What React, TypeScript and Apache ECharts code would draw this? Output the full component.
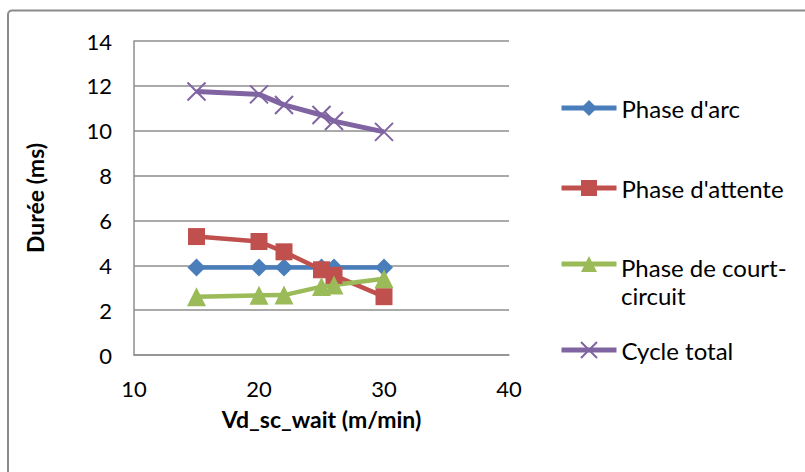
import React, { useEffect, useRef } from "react";
import * as echarts from "echarts";

const xValues = [15, 20, 22, 25, 26, 30];
const arcValues = [3.9, 3.9, 3.9, 3.9, 3.9, 3.9];
const attenteValues = [5.28, 5.06, 4.6, 3.8, 3.55, 2.6];
const courtCircuitValues = [2.6, 2.66, 2.67, 3.05, 3.12, 3.4];
const cycleValues = [11.75, 11.62, 11.15, 10.7, 10.43, 9.95];

const seriesNames = ["Phase d'arc", "Phase d'attente", "Phase de court-circuit", "Cycle total"];
const colors = ["#4A7EBB", "#C0504D", "#9BBB59", "#8064A2"];

const FONT = "Lato, 'Open Sans', sans-serif";

const pair = (ys: number[]) => xValues.map((x, i) => [x, ys[i]]);

export default function App() {
  const ref = useRef<HTMLDivElement>(null);
  useEffect(() => {
    if (!ref.current) return;
    const chart = echarts.init(ref.current, undefined, { renderer: "svg" });
    const legendBase = (name: string, top: number, text?: string) => ({
      data: [name],
      left: 559,
      top,
      padding: 0,
      orient: "vertical",
      itemWidth: 55,
      itemHeight: 20,
      itemGap: 0,
      selectedMode: false,
      formatter: text !== undefined ? () => text : undefined,
      lineStyle: { width: 5 },
      textStyle: { fontFamily: FONT, fontSize: 24, lineHeight: 22, color: "#000" },
    });
    chart.setOption({
      animation: false,
      backgroundColor: "#fff",
      grid: { left: 134, right: 296, top: 41, bottom: 117, containLabel: false },
      xAxis: {
        type: "value",
        min: 10,
        max: 40,
        interval: 10,
        name: "Vd_sc_wait (m/min)",
        nameLocation: "middle",
        nameGap: 52,
        nameTextStyle: { fontFamily: FONT, fontSize: 23, fontWeight: "bold", color: "#000" },
        axisLine: { show: true, lineStyle: { color: "#8e8e8e", width: 1.5 } },
        axisTick: { show: false },
        splitLine: { show: false },
        axisLabel: { fontFamily: FONT, fontSize: 22, color: "#000", margin: 22 },
      },
      yAxis: {
        type: "value",
        min: 0,
        max: 14,
        interval: 2,
        name: "Durée (ms)",
        nameLocation: "middle",
        nameGap: 88,
        nameTextStyle: { fontFamily: FONT, fontSize: 23, fontWeight: "bold", color: "#000" },
        axisLine: { show: true, lineStyle: { color: "#8e8e8e", width: 1.5 } },
        axisTick: { show: false },
        splitLine: { show: true, lineStyle: { color: "#8e8e8e", width: 1.5 } },
        axisLabel: { fontFamily: FONT, fontSize: 22, color: "#000", margin: 22 },
      },
      legend: [
        legendBase(seriesNames[0], 96),
        legendBase(seriesNames[1], 176),
        legendBase(seriesNames[2], 256, ""),
        legendBase(seriesNames[3], 338),
      ],
      graphic: [
        {
          type: "text",
          left: 621,
          top: 253,
          style: {
            text: "Phase de court-\ncircuit",
            font: `24px ${FONT}`,
            lineHeight: 28,
            fill: "#000",
          },
        },
        {
          type: "rect",
          shape: { x: 8, y: 10.5, width: 800, height: 480, r: 4 },
          style: { fill: "none", stroke: "#8a8a8a", lineWidth: 2 },
          silent: true,
        },
      ],
      series: [
        {
          name: seriesNames[0],
          type: "line",
          data: pair(arcValues),
          symbol: "diamond",
          symbolSize: 18,
          color: colors[0],
          lineStyle: { width: 4.5, color: colors[0] },
          itemStyle: { color: colors[0] },
        },
        {
          name: seriesNames[1],
          type: "line",
          data: pair(attenteValues),
          symbol: "rect",
          symbolSize: 17,
          color: colors[1],
          lineStyle: { width: 4.5, color: colors[1] },
          itemStyle: { color: colors[1] },
        },
        {
          name: seriesNames[2],
          type: "line",
          data: pair(courtCircuitValues),
          symbol: "triangle",
          symbolSize: 19,
          color: colors[2],
          lineStyle: { width: 4.5, color: colors[2] },
          itemStyle: { color: colors[2] },
        },
        {
          name: seriesNames[3],
          type: "line",
          data: pair(cycleValues),
          symbol: "path://M0,0 L10,10 M10,0 L0,10",
          symbolSize: 18,
          color: colors[3],
          lineStyle: { width: 5, color: colors[3] },
          itemStyle: { color: colors[3], borderColor: colors[3], borderWidth: 2 },
        },
      ],
    });
    return () => chart.dispose();
  }, []);
  return (
    <div
      ref={ref}
      style={{ position: "fixed", left: 0, top: 0, width: 805, height: 472, background: "#fff" }}
    />
  );
}
